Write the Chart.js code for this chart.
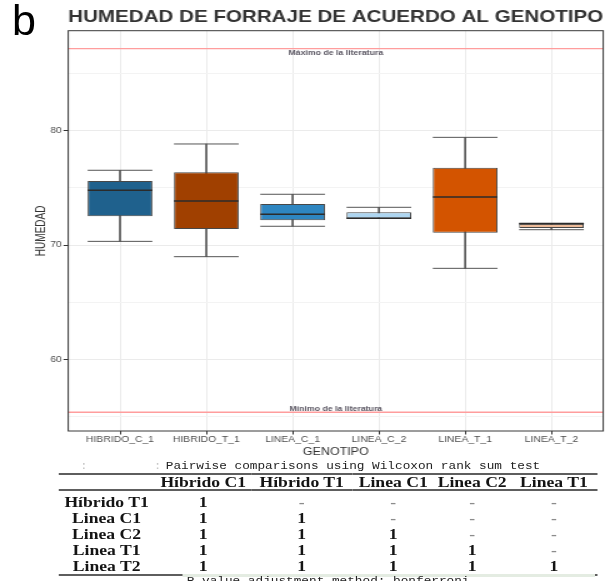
<!DOCTYPE html>
<html>
<head>
<meta charset="utf-8">
<script src="https://cdn.jsdelivr.net/npm/chart.js@4.4.1/dist/chart.umd.min.js"></script>
<style>
  html, body { margin: 0; padding: 0; background: #fff; }
  body { width: 605px; height: 581px; position: relative; overflow: hidden; }
  #tag { position: absolute; left: 12px; top: -1.4px; font: 43px/43px "Liberation Sans", Arial, sans-serif; color: #000; z-index: 2; }
  /* the whole figure is widened horizontally */
  #sheet { position: absolute; left: 0; top: 0; width: 484px; height: 581px; transform: scaleX(1.25); transform-origin: 0 0; }
  #chart { position: absolute; left: 0; top: 0; }
  .mono { position: absolute; font: 10.2px/12px "Liberation Mono", "DejaVu Sans Mono", monospace; color: #222; white-space: pre; }
  .dots { color: #c8c8c8; }
  #adj-bg { position: absolute; left: 146.4px; top: 573.6px; width: 330px; height: 3px; background: #e4ece2; }
  table { position: absolute; left: 46.6px; top: 473.3px; border-spacing: 0; table-layout: fixed; width: 431.8px;
          font: bold 14.1px "Liberation Serif", "Times New Roman", serif; color: #141414; }
  th, td { padding: 0; text-align: center; white-space: nowrap; overflow: visible; }
  thead th { border-top: 2px solid #5e5e5e; border-bottom: 2px solid #5e5e5e; line-height: 14px; }
  tbody td { line-height: 16.2px; }
  tbody tr:first-child td { padding-top: 2.5px; }
  tbody tr:last-child td { line-height: 15.2px; border-bottom: 2px solid #5e5e5e; }
  td.na { color: #8c8c8c; }
</style>
</head>
<body>
<div id="tag">b</div>
<div id="sheet">
  <canvas id="chart" width="484" height="460"></canvas>
  <div class="mono dots" style="left:64px; top:460.6px;">:</div>
  <div class="mono dots" style="left:123px; top:460.6px;">:</div>
  <div class="mono" style="left:132.6px; top:460.6px;">Pairwise comparisons using Wilcoxon rank sum test</div>
  <table id="pw">
    <colgroup>
      <col style="width:77.4px"><col style="width:77.2px"><col style="width:80.4px">
      <col style="width:66px"><col style="width:60.4px"><col style="width:70.4px">
    </colgroup>
    <thead><tr id="pw-head"><th></th></tr></thead>
    <tbody id="pw-body"></tbody>
  </table>
  <div id="adj-bg"></div>
  <div class="mono" style="left:149.4px; top:576px;">P value adjustment method: bonferroni</div>
</div>
<script>
// humedad del forraje por genotipo (resumen de caja y bigotes)
const GENOTIPOS = ['HIBRIDO_C_1', 'HIBRIDO_T_1', 'LINEA_C_1', 'LINEA_C_2', 'LINEA_T_1', 'LINEA_T_2'];
const COLORES = ['#1f618d', '#a04000', '#2e86c1', '#aed6f1', '#d35400', '#edbb99'];
const BIGOTE_INF = [70.32, 68.98, 71.64, 72.32, 67.96, 71.34];
const Q1 = [72.51, 71.40, 72.16, 72.33, 71.08, 71.50];
const MEDIANA = [74.79, 73.85, 72.69, 72.34, 74.20, 71.87];
const Q3 = [75.60, 76.36, 73.59, 72.86, 76.76, 71.86];
const BIGOTE_SUP = [76.54, 78.84, 74.44, 73.30, 79.42, 71.88];

// limites de la literatura
const LIT_MAX = 87.18;
const LIT_MIN = 55.37;
const LIT_TEXTOS = ['Máximo de la literatura', 'Mínimo de la literatura'];

const Y_MAJOR = [60, 70, 80];
const Y_MINOR = [55, 65, 75, 85];
const Y_RANGE = [53.73, 88.75];
const X_RANGE = [-0.6, 5.6];

// comparaciones por pares (Wilcoxon, bonferroni)
const PW_COLS = ['Híbrido C1', 'Híbrido T1', 'Linea C1', 'Linea C2', 'Linea T1'];
const PW_ROWS = ['Híbrido T1', 'Linea C1', 'Linea C2', 'Linea T1', 'Linea T2'];
const PW_P = [
  [1, null, null, null, null],
  [1, 1, null, null, null],
  [1, 1, 1, null, null],
  [1, 1, 1, 1, null],
  [1, 1, 1, 1, 1]
];

const head = document.getElementById('pw-head');
PW_COLS.forEach(c => {
  const th = document.createElement('th');
  th.textContent = c;
  head.appendChild(th);
});
const body = document.getElementById('pw-body');
PW_ROWS.forEach((r, i) => {
  const tr = document.createElement('tr');
  const name = document.createElement('td');
  name.textContent = r;
  tr.appendChild(name);
  PW_P[i].forEach(p => {
    const td = document.createElement('td');
    td.textContent = p === null ? '-' : String(p);
    if (p === null) td.className = 'na';
    tr.appendChild(td);
  });
  body.appendChild(tr);
});

Chart.defaults.font.family = '"Liberation Sans", Arial, sans-serif';

const halfBox = c => {
  const x = c.chart.scales.x;
  return 0.375 * Math.abs(x.getPixelForValue(1) - x.getPixelForValue(0));
};
const at = arr => arr.map((v, i) => ({ x: i, y: v }));

// borde del panel y textos de las lineas de referencia
const panel = {
  id: 'panel',
  afterDatasetsDraw(chart) {
    const { ctx, chartArea: a, scales: { y } } = chart;
    ctx.save();
    ctx.font = 'bold 7px "Liberation Sans", Arial, sans-serif';
    ctx.fillStyle = '#5a5662';
    ctx.textAlign = 'center';
    ctx.textBaseline = 'middle';
    const cx = (a.left + a.right) / 2;
    ctx.fillText(LIT_TEXTOS[0], cx, y.getPixelForValue(LIT_MAX) + 4.6);
    ctx.fillText(LIT_TEXTOS[1], cx, y.getPixelForValue(LIT_MIN) - 3.3);
    ctx.strokeStyle = '#3a3a3a';
    ctx.lineWidth = 1;
    ctx.strokeRect(a.left, a.top, a.right - a.left, a.bottom - a.top);
    ctx.restore();
  }
};

new Chart(document.getElementById('chart'), {
  type: 'bar',
  data: {
    datasets: [
      {
        type: 'bar',
        data: GENOTIPOS.map((_, i) => ({ x: i, y: [BIGOTE_INF[i], BIGOTE_SUP[i]] })),
        backgroundColor: '#555',
        barThickness: 1,
        grouped: false,
        order: 5
      },
      {
        type: 'bar',
        data: GENOTIPOS.map((_, i) => ({ x: i, y: [Q1[i], Q3[i]] })),
        backgroundColor: COLORES,
        borderColor: '#474747',
        borderWidth: 1,
        borderSkipped: false,
        barPercentage: 0.75,
        categoryPercentage: 1,
        grouped: false,
        order: 4
      },
      {
        type: 'scatter',
        data: at(BIGOTE_INF).concat(at(BIGOTE_SUP)),
        pointStyle: 'line',
        pointRadius: halfBox,
        pointBorderColor: '#555',
        pointBorderWidth: 1,
        order: 3
      },
      {
        type: 'scatter',
        data: at(MEDIANA),
        pointStyle: 'line',
        pointRadius: halfBox,
        pointBorderColor: '#2b2b2b',
        pointBorderWidth: 1.6,
        order: 1
      },
      {
        type: 'line',
        data: X_RANGE.map(x => ({ x, y: LIT_MAX })),
        borderColor: '#ff9d9d',
        borderWidth: 1.4,
        pointRadius: 0,
        order: 2
      },
      {
        type: 'line',
        data: X_RANGE.map(x => ({ x, y: LIT_MIN })),
        borderColor: '#ff9d9d',
        borderWidth: 1.4,
        pointRadius: 0,
        order: 2
      }
    ]
  },
  options: {
    responsive: false,
    animation: false,
    events: [],
    layout: { padding: { left: 0, right: 1.4, top: 0, bottom: 0 } },
    plugins: {
      legend: { display: false },
      tooltip: { enabled: false },
      title: {
        display: true,
        text: 'HUMEDAD DE FORRAJE DE ACUERDO AL GENOTIPO',
        align: 'start',
        fullSize: false,
        color: '#333',
        font: { size: 16.5, weight: 'bold' },
        padding: { top: 7.6, bottom: 3.3 }
      }
    },
    scales: {
      x: {
        type: 'linear',
        min: X_RANGE[0],
        max: X_RANGE[1],
        offset: false,
        afterBuildTicks: s => { s.ticks = GENOTIPOS.map((_, i) => ({ value: i })); },
        afterFit: s => { s.height = 29; },
        grid: { offset: false, color: '#ebebeb', tickColor: '#333', tickLength: 3.5 },
        border: { display: false },
        ticks: {
          padding: 0.2,
          color: '#4d4d4d',
          font: { size: 8.3 },
          autoSkip: false,
          maxRotation: 0,
          callback: v => GENOTIPOS[v] ?? ''
        },
        title: {
          display: true,
          text: 'GENOTIPO',
          color: '#333',
          font: { size: 10 },
          padding: { top: 0, bottom: 2 }
        }
      },
      y: {
        min: Y_RANGE[0],
        max: Y_RANGE[1],
        afterBuildTicks: s => {
          s.ticks = Y_MINOR.concat(Y_MAJOR).sort((a, b) => a - b).map(v => ({ value: v }));
        },
        afterFit: s => { s.width = 54.6; },
        grid: {
          color: c => Y_MAJOR.includes(c.tick.value) ? '#ebebeb' : '#f3f3f3',
          tickColor: c => Y_MAJOR.includes(c.tick.value) ? '#333' : 'rgba(0,0,0,0)',
          tickLength: 3.8
        },
        border: { display: false },
        ticks: {
          padding: 1.4,
          color: '#4d4d4d',
          font: { size: 8.3 },
          callback: v => Y_MAJOR.includes(v) ? String(v) : ''
        },
        title: {
          display: true,
          text: 'HUMEDAD',
          color: '#333',
          font: { size: 10 },
          padding: { top: 26.8, bottom: 0 }
        }
      }
    }
  },
  plugins: [panel]
});
</script>
</body>
</html>
